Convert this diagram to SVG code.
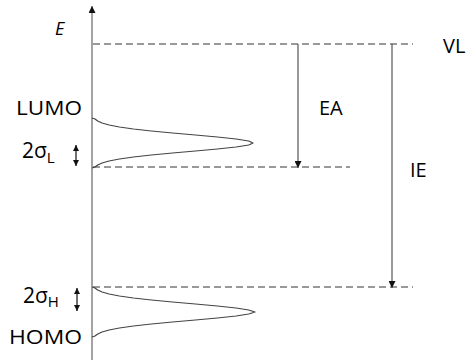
<svg xmlns="http://www.w3.org/2000/svg" width="468" height="360" viewBox="0 0 468 360">
<defs>
<style>
.lbl{font-family:"Open Sans","Noto Sans","DejaVu Sans",sans-serif;font-size:20px;fill:#000}
.sig{font-size:21px}
.sub{font-size:15px}
.dash{stroke:#333;stroke-width:1;stroke-dasharray:7 4;fill:none}
.ln{stroke:#555;stroke-width:1.2;fill:none}
.curve{stroke:#444;stroke-width:1.2;fill:none;stroke-linejoin:round}
</style>
<marker id="ah" viewBox="0 0 10 10" refX="10" refY="5" markerWidth="7" markerHeight="7" markerUnits="userSpaceOnUse" orient="auto">
<path d="M0,0 L10,5 L0,10 z" fill="#111"/>
</marker>
<marker id="ahs" viewBox="0 0 10 10" refX="10" refY="5" markerWidth="6" markerHeight="6" markerUnits="userSpaceOnUse" orient="auto-start-reverse">
<path d="M0,0 L10,5 L0,10 z" fill="#111"/>
</marker>
</defs>
<g id="connectors">
<line id="axis" class="ln" x1="92" y1="360" x2="92" y2="6" marker-end="url(#ah)" style="stroke:#666"/>
<line class="dash" x1="93" y1="44" x2="413" y2="44"/>
<line class="dash" x1="93" y1="167" x2="350" y2="167"/>
<line class="dash" x1="93" y1="287" x2="413" y2="287"/>
<line id="ea-arrow" class="ln" x1="298" y1="44" x2="298" y2="168" marker-end="url(#ah)"/>
<line id="ie-arrow" class="ln" x1="392" y1="44" x2="392" y2="288" marker-end="url(#ah)"/>
<line class="ln" x1="76" y1="145" x2="76" y2="166" marker-start="url(#ahs)" marker-end="url(#ahs)" style="stroke:#111"/>
<line class="ln" x1="77" y1="288" x2="77" y2="311" marker-start="url(#ahs)" marker-end="url(#ahs)" style="stroke:#111"/>
</g>
<g id="lumo-dos">
<polyline class="curve" points="92,118 95,119 97.7,121 102.1,123 109.1,125 119.4,127 133.5,129 151.4,131 172.5,133 195.4,135 217.4,137 236.1,139 248.7,141 253,143 248.7,145 236.1,147 217.4,149 195.4,151 172.5,153 151.4,155 133.5,157 119.4,159 109.1,161 102.1,163 97.7,165 95,167 92,168"/>
</g>
<g id="homo-dos">
<polyline class="curve" points="92,287 95,288 97.7,290 102.1,292 109.1,294 119.4,296 133.5,298 151.4,300 172.5,302 195.4,304 217.4,306 236.1,308 248.7,310 255,312 248.7,314 236.1,316 217.4,318 195.4,320 172.5,322 151.4,324 133.5,326 119.4,328 109.1,330 102.1,332 97.7,334 95,336 92,337"/>
</g>
<g id="labels">
<text class="lbl" x="55" y="35" font-style="italic" style="font-size:18px">E</text>
<text id="vl" class="lbl" x="443" y="52.5">VL</text>
<text id="lumo" class="lbl" x="16" y="115" textLength="66" lengthAdjust="spacingAndGlyphs">LUMO</text>
<text id="sigl" class="lbl sig" x="22" y="158">2σ<tspan class="sub" dy="5">L</tspan></text>
<text id="ea" class="lbl" x="319" y="115">EA</text>
<text id="ie" class="lbl" x="410" y="177">IE</text>
<text id="sigh" class="lbl sig" x="23" y="303">2σ<tspan class="sub" dy="4">H</tspan></text>
<text id="homo" class="lbl" x="9" y="344" textLength="73" lengthAdjust="spacingAndGlyphs">HOMO</text>
</g>
</svg>
